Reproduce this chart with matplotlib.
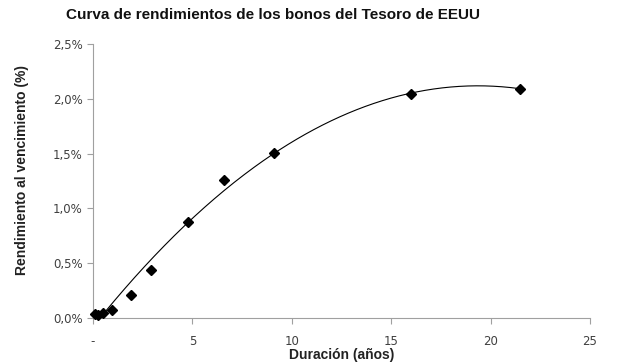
import numpy as np
import matplotlib.pyplot as plt
from matplotlib.ticker import FuncFormatter

# duration (years) and yield to maturity (%)
duracion = [0.08, 0.25, 0.5, 0.95, 1.9, 2.9, 4.8, 6.6, 9.1, 16.0, 21.5]
rendimiento = [0.04, 0.03, 0.05, 0.07, 0.21, 0.44, 0.88, 1.26, 1.51, 2.04, 2.09]

x_ticks = [0, 5, 10, 15, 20, 25]
y_ticks = [0.0, 0.5, 1.0, 1.5, 2.0, 2.5]

fig = plt.figure(figsize=(6.17, 3.64), dpi=100)
ax = fig.add_axes([93/617, 1 - 318/364, (590-93)/617, (318-44)/364])

# polynomial (order 2) trendline, like Excel
coef = np.polyfit(duracion, rendimiento, 2)
xs = np.linspace(min(duracion), max(duracion), 300)
ax.plot(xs, np.polyval(coef, xs), color='black', lw=0.8)

ax.plot(duracion, rendimiento, linestyle='none', marker='D', markersize=5.5,
        color='black', clip_on=False, zorder=3)

ax.set_xlim(0, 25)
ax.set_ylim(0, 2.5)
ax.set_xticks(x_ticks)
ax.set_yticks(y_ticks)
ax.xaxis.set_major_formatter(FuncFormatter(lambda v, p: '-' if v == 0 else '%d' % v))
ax.yaxis.set_major_formatter(FuncFormatter(lambda v, p: ('%.1f%%' % v).replace('.', ',')))

for s in ['top', 'right']:
    ax.spines[s].set_visible(False)
for s in ['left', 'bottom']:
    ax.spines[s].set_color('#a0a0a0')
ax.tick_params(colors='#a0a0a0', labelcolor='#404040', labelsize=8.5, length=4, direction='out')
ax.tick_params(axis='x', pad=8)

ax.set_xlabel('Duración (años)', fontsize=10, fontweight='bold', family='Liberation Sans',
              color='#222222', labelpad=0)
fig.text(22/617, 1 - 170/364, 'Rendimiento al vencimiento (%)', rotation=90, ha='center',
         va='center', fontsize=10, fontweight='bold', family='Liberation Sans', color='#222222')
fig.text(273/617, 1 - 15/364, 'Curva de rendimientos de los bonos del Tesoro de EEUU', ha='center',
         va='center', fontsize=11, fontweight='bold', family='Liberation Sans', color='#111111')

fig.savefig('out.png', dpi=100)
